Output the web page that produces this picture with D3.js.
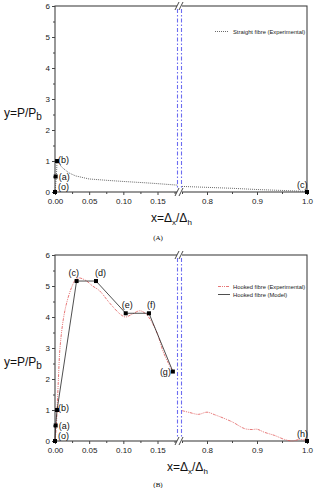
<!DOCTYPE html>
<html>
<head>
<meta charset="utf-8">
<script src="https://cdn.jsdelivr.net/npm/d3@7"></script>
<style>
  body { margin: 0; background: #fff; }
  svg { display: block; font-family: "Liberation Sans", Arial, sans-serif; }
</style>
</head>
<body>
<div id="chart"></div>
<script>
// x is split into two pieces: 0 .. 0.18 and 0.75 .. 1.0
const leftTicks = [0, 0.05, 0.10, 0.15];
const rightTicks = [0.8, 0.9, 1.0];
const yTicks = [0, 1, 2, 3, 4, 5, 6];

// (A) straight fibre
const straightLeft = [[0, 0], [0.002, 0.5], [0.003, 1.0], [0.01, 0.8], [0.02, 0.62], [0.03, 0.52],
  [0.05, 0.42], [0.08, 0.37], [0.10, 0.34], [0.13, 0.3], [0.15, 0.27], [0.18, 0.22]];
const straightRight = [[0.75, 0.18], [0.8, 0.15], [0.85, 0.12], [0.9, 0.08], [0.95, 0.05], [1.0, 0.02]];
const pointsA = [
  { x: 0, y: 0, label: "(o)" },
  { x: 0.001, y: 0.5, label: "(a)" },
  { x: 0.003, y: 1.0, label: "(b)" },
  { x: 1.0, y: 0, label: "(c)" }
];

// (B) hooked fibre
const hookedExpLeft = [[0, 0], [0.002, 0.5], [0.003, 1.0], [0.005, 2.0], [0.0073, 3.0], [0.012, 3.9],
  [0.017, 4.45], [0.024, 4.94], [0.03, 5.2], [0.035, 5.26], [0.045, 5.18], [0.055, 5.0], [0.065, 4.85],
  [0.08, 4.45], [0.095, 4.1], [0.103, 4.0], [0.112, 4.08], [0.124, 4.2], [0.132, 4.12], [0.14, 3.9],
  [0.15, 3.45], [0.158, 2.9], [0.165, 2.55], [0.172, 2.25]];
const hookedExpRight = [[0.75, 0.98], [0.765, 0.92], [0.783, 0.86], [0.8, 0.93], [0.815, 0.85],
  [0.85, 0.62], [0.875, 0.4], [0.89, 0.37], [0.9, 0.38], [0.915, 0.28], [0.935, 0.18], [0.955, 0.05],
  [0.97, 0.0], [0.985, 0.05], [1.0, 0.02]];
const pointsB = [
  { x: 0, y: 0, label: "(o)" },
  { x: 0.001, y: 0.5, label: "(a)" },
  { x: 0.003, y: 1.0, label: "(b)" },
  { x: 0.0316, y: 5.16, label: "(c)" },
  { x: 0.06, y: 5.16, label: "(d)" },
  { x: 0.1035, y: 4.12, label: "(e)" },
  { x: 0.1375, y: 4.12, label: "(f)" },
  { x: 0.1725, y: 2.24, label: "(g)" },
  { x: 1.0, y: 0, label: "(h)" }
];
const hookedModel = pointsB.slice(0, 8).map(d => [d.x, d.y]);

const W = 314, H = 488;
const svg = d3.select("#chart").append("svg").attr("width", W).attr("height", H);

const xL = d3.scaleLinear().domain([0, 0.18]).range([55, 178]);
const xR = d3.scaleLinear().domain([0.75, 1.0]).range([182, 307]);
const xPos = v => (v < 0.5 ? xL(v) : xR(v));

function drawPanel(top, bottom, opts) {
  const y = d3.scaleLinear().domain([0, 6]).range([bottom, top]);
  const g = svg.append("g");

  // frame
  g.append("rect")
    .attr("x", 55).attr("y", top)
    .attr("width", 252).attr("height", bottom - top)
    .attr("fill", "none").attr("stroke", "#444").attr("stroke-width", 1.1);

  // axes
  const axisStyle = sel => {
    sel.select(".domain").remove();
    sel.selectAll("text").style("font-size", "8px").attr("fill", "#222");
    sel.selectAll("line").attr("stroke", "#444");
  };
  g.append("g").attr("transform", `translate(55,0)`)
    .call(d3.axisLeft(y).tickValues(yTicks).tickSize(3).tickPadding(2).tickFormat(d3.format("d")))
    .call(axisStyle);
  g.append("g").attr("transform", `translate(55,0)`)
    .call(d3.axisLeft(y).tickValues(d3.range(0.5, 6, 1)).tickSize(2).tickFormat(""))
    .call(axisStyle);
  g.append("g").attr("transform", `translate(0,${bottom})`)
    .call(d3.axisBottom(xL).tickValues(leftTicks).tickSize(3).tickPadding(3).tickFormat(d3.format(".2f")))
    .call(axisStyle);
  g.append("g").attr("transform", `translate(0,${bottom})`)
    .call(d3.axisBottom(xL).tickValues([0.025, 0.075, 0.125, 0.175]).tickSize(2).tickFormat(""))
    .call(axisStyle);
  g.append("g").attr("transform", `translate(0,${bottom})`)
    .call(d3.axisBottom(xR).tickValues(rightTicks).tickSize(3).tickPadding(3).tickFormat(d3.format(".1f")))
    .call(axisStyle);
  g.append("g").attr("transform", `translate(0,${bottom})`)
    .call(d3.axisBottom(xR).tickValues([0.75, 0.85, 0.95]).tickSize(2).tickFormat(""))
    .call(axisStyle);

  // break: blue dash-dot lines and // marks
  [top, bottom].forEach(by => {
    g.append("rect").attr("x", 177).attr("y", by - 1.5).attr("width", 5).attr("height", 3).attr("fill", "#fff");
  });
  [177.5, 181.5].forEach(bx => {
    g.append("line")
      .attr("x1", bx).attr("x2", bx).attr("y1", top + 3).attr("y2", bottom - 3)
      .attr("stroke", "#6c6cf0").attr("stroke-width", 1.1)
      .attr("stroke-dasharray", "4,2,1.5,2");
  });
  [top, bottom].forEach(by => {
    [176.5, 180.5].forEach(bx => {
      g.append("line")
        .attr("x1", bx - 1.5).attr("y1", by + 4).attr("x2", bx + 2.5).attr("y2", by - 4)
        .attr("stroke", "#333").attr("stroke-width", 0.9);
    });
  });

  // y label
  const yl = g.append("text").attr("x", 4).attr("y", top + 111).style("font-size", "12px").attr("fill", "#111");
  yl.append("tspan").text("y=P/P");
  yl.append("tspan").attr("dy", 3).style("font-size", "10px").text("b");

  // x label
  const xl = g.append("text").attr("x", opts.xLabelX).attr("y", bottom + 30)
    .style("font-size", "12px").attr("fill", "#111");
  xl.append("tspan").text("x=Δ");
  xl.append("tspan").attr("dy", 3).style("font-size", "8px").text("x");
  xl.append("tspan").attr("dy", -3).text("/Δ");
  xl.append("tspan").attr("dy", 3).style("font-size", "8px").text("h");

  // panel caption
  g.append("text").attr("x", 158).attr("y", opts.captionY).attr("text-anchor", "middle")
    .style("font-family", "'Liberation Serif', serif").style("font-size", "7px").text(opts.caption);

  return { g, y };
}

function drawPoints(g, y, pts, offsets) {
  g.selectAll(null).data(pts).enter().append("rect")
    .attr("x", d => xPos(d.x) - 2).attr("y", d => y(d.y) - 2)
    .attr("width", 4).attr("height", 4).attr("fill", "#000");
  g.selectAll(null).data(pts).enter().append("text")
    .attr("x", (d, i) => xPos(d.x) + offsets[i][0])
    .attr("y", (d, i) => y(d.y) + offsets[i][1])
    .style("font-size", "9px").attr("fill", "#111")
    .text(d => d.label);
}

// ---------- panel A ----------
const A = drawPanel(6, 192, { xLabelX: 151, captionY: 240, caption: "(A)" });
const lineA = d3.line().x(d => xPos(d[0])).y(d => A.y(d[1]));
[straightLeft, straightRight].forEach(seg => {
  A.g.append("path").datum(seg).attr("d", lineA)
    .attr("fill", "none").attr("stroke", "#444").attr("stroke-width", 0.8)
    .attr("stroke-dasharray", "1,1");
});
drawPoints(A.g, A.y, pointsA, [[3, -2], [3, 3], [1, 2], [-10, -4]]);
A.g.append("line").attr("x1", 215).attr("x2", 228).attr("y1", 31.5).attr("y2", 31.5)
  .attr("stroke", "#444").attr("stroke-width", 0.8).attr("stroke-dasharray", "1,1");
A.g.append("text").attr("x", 233).attr("y", 33.5).style("font-size", "5.8px").attr("fill", "#222")
  .text("Straight fibre (Experimental)");

// ---------- panel B ----------
const B = drawPanel(255, 441, { xLabelX: 167, captionY: 487, caption: "(B)" });
const lineB = d3.line().x(d => xPos(d[0])).y(d => B.y(d[1]));
[hookedExpLeft, hookedExpRight].forEach(seg => {
  B.g.append("path").datum(seg).attr("d", lineB.curve(d3.curveCatmullRom))
    .attr("fill", "none").attr("stroke", "#e05555").attr("stroke-width", 0.8)
    .attr("stroke-dasharray", "3,1,1,1,1,1");
});
B.g.append("path").datum(hookedModel).attr("d", lineB.curve(d3.curveLinear))
  .attr("fill", "none").attr("stroke", "#222").attr("stroke-width", 0.8);
drawPoints(B.g, B.y, pointsB, [
  [3, -2], [3, 3], [1, 1], [-8, -5], [-1, -5], [-4, -5], [-2, -5], [-13, 3], [-10, -4]
]);
B.g.append("line").attr("x1", 218).attr("x2", 230).attr("y1", 286.5).attr("y2", 286.5)
  .attr("stroke", "#e05555").attr("stroke-width", 0.8).attr("stroke-dasharray", "3,1,1,1,1,1");
B.g.append("text").attr("x", 233).attr("y", 288.5).style("font-size", "5.8px").attr("fill", "#222")
  .text("Hooked fibre (Experimental)");
B.g.append("line").attr("x1", 218).attr("x2", 230).attr("y1", 294.5).attr("y2", 294.5)
  .attr("stroke", "#222").attr("stroke-width", 0.8);
B.g.append("text").attr("x", 233).attr("y", 296.5).style("font-size", "5.8px").attr("fill", "#222")
  .text("Hooked fibre (Model)");
</script>
</body>
</html>
